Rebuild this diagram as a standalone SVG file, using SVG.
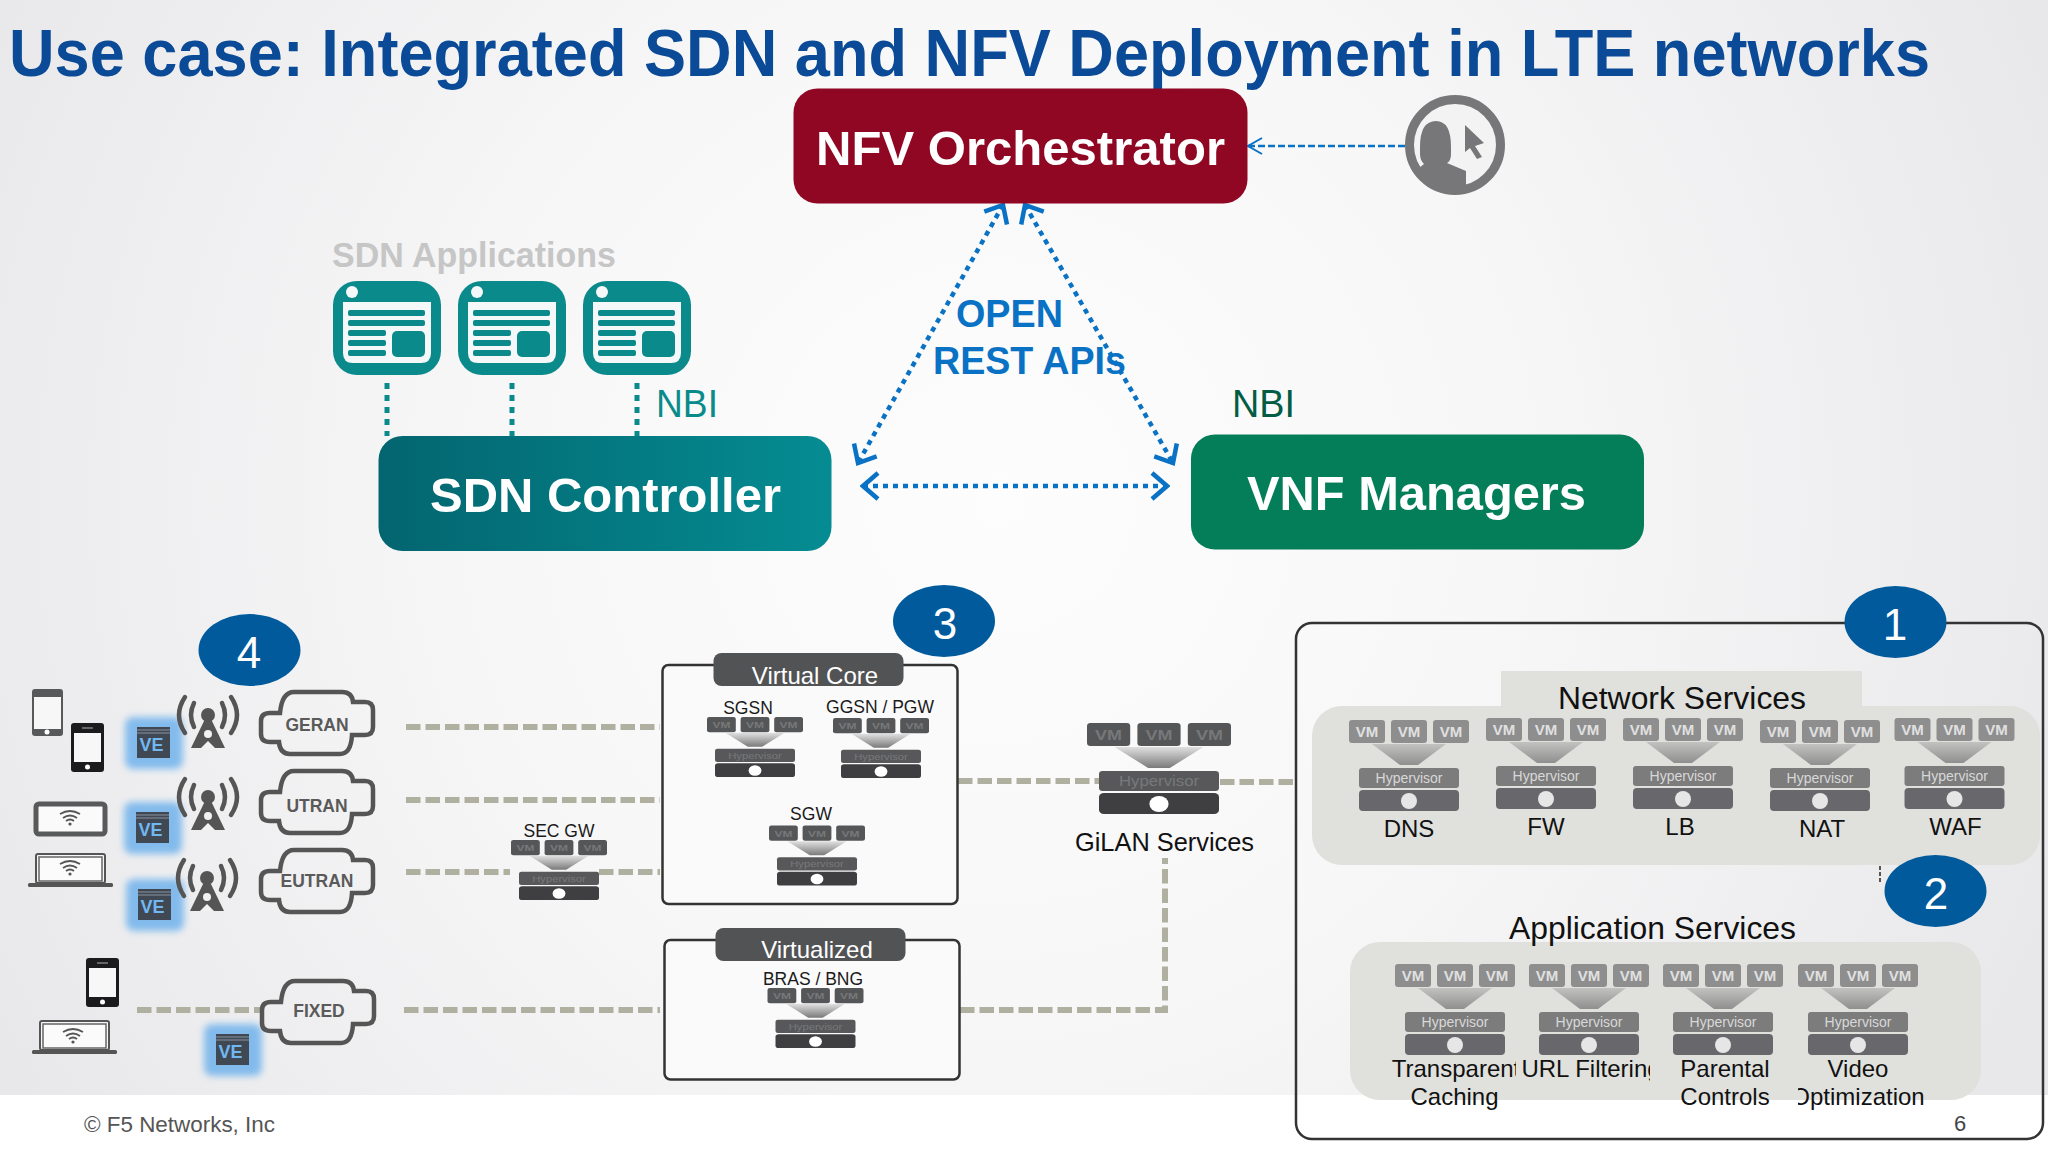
<svg xmlns="http://www.w3.org/2000/svg" width="2048" height="1152" viewBox="0 0 2048 1152">
<style>
text{font-family:"Liberation Sans",Arial,sans-serif}
.m{text-anchor:middle}
.vm{font-size:15px;font-weight:bold;text-anchor:middle;fill:#e0e0e0}
.hv{font-size:14px;text-anchor:middle;fill:#d8d8d8}
.vmd{font-size:15px;font-weight:bold;text-anchor:middle;fill:#77787a}
.hvd{font-size:14px;text-anchor:middle;fill:#77787a}
.lbl{font-size:24px;text-anchor:middle;fill:#111}
.sm{font-size:17.5px;text-anchor:middle;fill:#1a1a1a}
.big{font-size:49px;font-weight:bold;fill:#fff}
.num{font-size:44px;fill:#fff;text-anchor:middle}
.badge{fill:#005a9c}
.hdr{font-size:32px;fill:#111}
.cl{font-size:17.5px;font-weight:bold;fill:#5a5a5a;text-anchor:middle}
.tan{fill:none;stroke:#b0b0a0;stroke-width:6;stroke-dasharray:14.5 5}
.teal{fill:none;stroke:#0b8a8b;stroke-width:5;stroke-dasharray:6 6}
.blue{fill:none;stroke:#0a72c4;stroke-width:4.5;stroke-dasharray:5 5;marker-start:url(#ah);marker-end:url(#ah)}
.box{fill:#fafafb;stroke:#333;stroke-width:2.5}
.tab{fill:#525355}
.tabt{font-size:24px;fill:#fff;text-anchor:middle}
.wf{fill:none;stroke:#555;stroke-width:1.8}
</style>
<defs>
<radialGradient id="bg" gradientUnits="userSpaceOnUse" cx="1000" cy="500" r="1150">
<stop offset="0" stop-color="#fdfdfd"/><stop offset=".45" stop-color="#f7f7f8"/><stop offset="1" stop-color="#e8e8ea"/>
</radialGradient>
<linearGradient id="sdn" x1="0" x2="1" y1="0" y2="0"><stop offset="0" stop-color="#03656f"/><stop offset="1" stop-color="#058c92"/></linearGradient>
<linearGradient id="fun" x1="0" x2="0" y1="0" y2="1"><stop offset="0" stop-color="#c2c2c0"/><stop offset="1" stop-color="#8f8f8f"/></linearGradient>
<linearGradient id="fund" x1="0" x2="0" y1="0" y2="1"><stop offset="0" stop-color="#e0e0e0"/><stop offset="1" stop-color="#7a7a7a"/></linearGradient>
<filter id="glow" x="-30%" y="-30%" width="160%" height="160%"><feGaussianBlur stdDeviation="3.5"/></filter>
<marker id="ah" markerUnits="userSpaceOnUse" markerWidth="26" markerHeight="30" viewBox="0 0 26 30" refX="23" refY="15" orient="auto-start-reverse"><path d="M8 2 L23 15 L8 28" fill="none" stroke="#0a72c4" stroke-width="4.5"/></marker>
<marker id="ah2" markerUnits="userSpaceOnUse" markerWidth="18" markerHeight="20" viewBox="0 0 18 20" refX="16" refY="10" orient="auto"><path d="M16 2 L2 10 L16 18" transform="rotate(180 9 10)" fill="none" stroke="#0a72c4" stroke-width="2"/></marker>
<g id="unitL">
<rect x="-60" y="0" width="36" height="23" rx="3" fill="#8e8e8e"/><rect x="-18" y="0" width="36" height="23" rx="3" fill="#8e8e8e"/><rect x="24" y="0" width="36" height="23" rx="3" fill="#8e8e8e"/>
<polygon points="-37,24 37,24 9,45 -9,45" fill="url(#fun)"/>
<rect x="-50" y="48" width="100" height="20" rx="3" fill="#7c7c7c"/>
<rect x="-50" y="70" width="100" height="21" rx="4" fill="#68686c"/>
<ellipse cx="0" cy="81" rx="8" ry="8" fill="#e6e6e6"/>
</g>
<g id="unitD">
<rect x="-60" y="0" width="36" height="23" rx="3" fill="#555658"/><rect x="-18" y="0" width="36" height="23" rx="3" fill="#555658"/><rect x="24" y="0" width="36" height="23" rx="3" fill="#555658"/>
<polygon points="-37,24 37,24 9,45 -9,45" fill="url(#fund)"/>
<rect x="-50" y="48" width="100" height="20" rx="3" fill="#58585a"/>
<rect x="-50" y="70" width="100" height="21" rx="4" fill="#3f3f42"/>
<ellipse cx="0" cy="81" rx="8" ry="8" fill="#fff"/>
</g>
<g id="appicon">
<rect width="108" height="94" rx="24" fill="#0b8a8b"/>
<path d="M10 21 H98 V72 Q98 82 88 82 H20 Q10 82 10 72Z" fill="#f4f8f8"/>
<circle cx="19" cy="11" r="6" fill="#f4f8f8"/>
<rect x="15" y="29" width="77" height="6" rx="2" fill="#0b8a8b"/><rect x="15" y="39" width="77" height="6" rx="2" fill="#0b8a8b"/>
<rect x="15" y="49" width="38" height="6" rx="2" fill="#0b8a8b"/><rect x="15" y="59" width="38" height="6" rx="2" fill="#0b8a8b"/><rect x="15" y="69" width="38" height="6" rx="2" fill="#0b8a8b"/>
<rect x="59" y="50" width="33" height="26" rx="5" fill="#0b8a8b"/>
</g>
<g id="ve">
<rect x="-12" y="-10" width="58" height="52" rx="8" fill="#6fb2ec" opacity=".85" filter="url(#glow)"/>
<rect width="33" height="31" fill="#3f4853"/>
<path d="M0 3H33M0 6H33" stroke="#8a93a0" stroke-width="1"/>
</g>
<path id="cloud" d="M34 1 H82 Q92 1 93 11 H105 Q113 11 113 19 V36 Q113 44 105 44 H92 Q91 63 80 63 H30 Q20 63 19 51 H10 Q1 51 1 43 V30 Q1 22 10 22 H20 Q22 1 34 1Z" fill="none" stroke="#555" stroke-width="4.5"/>
<g id="tower" fill="#555">
<path d="M-14 -12 Q-20 0 -14 12M14 -12 Q20 0 14 12M-23 -18 Q-35 0 -23 18M23 -18 Q35 0 23 18" fill="none" stroke="#555" stroke-width="4.5" stroke-linecap="round"/>
<circle cx="0" cy="0" r="7"/>
<path d="M-3 4 H3 L17 33 H-17Z"/><circle cx="0" cy="19" r="4" fill="#f2f2f3"/><path d="M-7 33 L0 26 L7 33Z" fill="#f2f2f3"/>
</g>
<g id="wifi"><path class="wf" d="M-10 -3 Q0 -9 10 -3M-7 1 Q0 -4 7 1M-4 4 Q0 1 4 4"/><circle cy="7" r="1.6" fill="#555"/></g>
<g id="phoneK"><rect width="33" height="49" rx="3" fill="#1b1b1d"/><rect x="3" y="10" width="27" height="29" fill="#f7f7f7"/><circle cx="16.5" cy="44" r="2.5" fill="#fff"/><rect x="11" y="4" width="11" height="2" fill="#666"/></g>
<g id="laptop"><rect x="8" y="0" width="69" height="29" rx="2" fill="#f6f6f6" stroke="#555" stroke-width="2"/><rect x="11" y="3" width="63" height="24" fill="#fbfbfb" stroke="#666" stroke-width="1.5"/><rect x="0" y="29" width="85" height="4" rx="1.5" fill="#555"/></g>
<clipPath id="c1"><rect x="1380" y="1050" width="136" height="40"/></clipPath>
<clipPath id="c2"><rect x="1518" y="1050" width="132" height="40"/></clipPath>
<clipPath id="c3"><rect x="1798" y="1080" width="140" height="40"/></clipPath>
</defs>

<rect width="2048" height="1152" fill="url(#bg)"/>
<rect y="1095" width="2048" height="57" fill="#fff"/>

<text x="9" y="76" font-size="66" font-weight="bold" fill="#0a4a96" textLength="1921" lengthAdjust="spacingAndGlyphs">Use case: Integrated SDN and NFV Deployment in LTE networks</text>

<g id="connectors">
<path class="teal" d="M387 383V436M512 383V436M637 383V436"/>
<path class="blue" d="M1003 205L858 463"/>
<path class="blue" d="M1025 205L1173 463"/>
<path class="blue" d="M863 486H1167"/>
<path d="M1405 146H1248" fill="none" stroke="#0a72c4" stroke-width="2.5" stroke-dasharray="7 3" marker-end="url(#ah2)"/>
<path class="tan" d="M406 727H660"/>
<path class="tan" d="M406 800H660"/>
<path class="tan" d="M406 872H510M599 872H660"/>
<path class="tan" d="M137 1010H261"/>
<path class="tan" d="M404 1010H660"/>
<path class="tan" d="M958 781H1100"/>
<path class="tan" d="M1220 782H1296"/>
<path class="tan" d="M960 1010H1165V858"/>
<path d="M1880 866V883" stroke="#222" stroke-width="1.5" stroke-dasharray="4 2" fill="none"/>
</g>

<g id="nfv-orchestrator"><rect x="793.500" y="88.500" width="454" height="115" rx="24" fill="#8f0723"/><text class="big" x="816" y="165" textLength="409" lengthAdjust="spacingAndGlyphs">NFV Orchestrator</text></g>
<g id="user"><circle cx="1455" cy="145" r="45.5" fill="#f3f3f4" stroke="#77777a" stroke-width="9"/>
<path d="M1420 147 Q1420 121 1436 121 Q1451 121 1451 147 V154 Q1451 161 1447 163 L1466 171 V187 Q1440 195 1414 172 L1424 164 Q1420 160 1420 154Z" fill="#77777a"/>
<polygon points="1465,125 1484,143 1475,146 1482,157 1477,159 1470,148 1465,152" fill="#77777a"/></g>

<g id="sdn-applications"><text x="332" y="267" font-size="35" font-weight="bold" fill="#c6c6c6" textLength="284" lengthAdjust="spacingAndGlyphs">SDN Applications</text>
<use href="#appicon" x="333" y="281"/><use href="#appicon" x="458" y="281"/><use href="#appicon" x="583" y="281"/></g>
<g id="sdn-controller"><rect x="378.500" y="436" width="453" height="115" rx="24" fill="url(#sdn)"/><text class="big" x="430" y="512" textLength="351" lengthAdjust="spacingAndGlyphs">SDN Controller</text></g>
<g id="vnf-managers"><rect x="1191" y="434.500" width="453" height="115" rx="24" fill="#047e58"/><text class="big" x="1247" y="510" textLength="339" lengthAdjust="spacingAndGlyphs">VNF Managers</text></g>
<text x="656" y="417" font-size="39" fill="#0a8b8b" textLength="62" lengthAdjust="spacingAndGlyphs">NBI</text>
<text x="1232" y="417" font-size="39" fill="#045c44" textLength="63" lengthAdjust="spacingAndGlyphs">NBI</text>
<text x="956" y="327" font-size="39" font-weight="bold" fill="#0a72c4" textLength="107" lengthAdjust="spacingAndGlyphs">OPEN</text>
<text x="933" y="374" font-size="39" font-weight="bold" fill="#0a72c4" textLength="193" lengthAdjust="spacingAndGlyphs">REST APIs</text>

<g id="n4"><ellipse class="badge" cx="249.500" cy="650" rx="51" ry="36"/><text class="num" x="249" y="668">4</text></g>
<g id="n3"><ellipse class="badge" cx="944" cy="621" rx="51" ry="36"/><text class="num" x="945" y="639">3</text></g>

<g id="devices">
<rect x="32" y="689" width="31" height="47" rx="3" fill="#58595b"/><rect x="34" y="697" width="27" height="32" fill="#f7f7f7"/><circle cx="47" cy="732" r="2.5" fill="#fff"/>
<use href="#phoneK" x="71" y="723"/>
<rect x="36" y="804" width="69" height="30" rx="3" fill="#fafafa" stroke="#58595b" stroke-width="5"/><use href="#wifi" x="70" y="817"/>
<use href="#laptop" x="28" y="854"/><use href="#wifi" x="70" y="867"/>
<use href="#phoneK" x="86" y="958"/>
<use href="#laptop" x="32" y="1021"/><use href="#wifi" x="73" y="1035"/>
</g>
<g id="ve1"><use href="#ve" x="137" y="727"/><text x="139.500" y="751" font-size="18" font-weight="bold" fill="#72b8f0" textLength="24" lengthAdjust="spacingAndGlyphs">VE</text></g>
<g id="ve2"><use href="#ve" x="136" y="812"/><text x="138.500" y="836" font-size="18" font-weight="bold" fill="#72b8f0" textLength="24" lengthAdjust="spacingAndGlyphs">VE</text></g>
<g id="ve3"><use href="#ve" x="138" y="889"/><text x="140.500" y="913" font-size="18" font-weight="bold" fill="#72b8f0" textLength="24" lengthAdjust="spacingAndGlyphs">VE</text></g>
<g id="ve4"><use href="#ve" x="216" y="1034"/><text x="218.500" y="1058" font-size="18" font-weight="bold" fill="#72b8f0" textLength="24" lengthAdjust="spacingAndGlyphs">VE</text></g>
<use id="tower1" href="#tower" x="208" y="715"/>
<use id="tower2" href="#tower" x="208" y="797"/>
<use id="tower3" href="#tower" x="207" y="878"/>
<g id="geran"><use href="#cloud" x="260" y="691"/><text class="cl" x="317" y="731">GERAN</text></g>
<g id="utran"><use href="#cloud" x="260" y="770"/><text class="cl" x="317" y="812">UTRAN</text></g>
<g id="eutran"><use href="#cloud" x="260" y="849"/><text class="cl" x="317" y="887">EUTRAN</text></g>
<g id="fixed"><use href="#cloud" x="261" y="980"/><text class="cl" x="319" y="1017">FIXED</text></g>

<g id="sec-gw"><text class="sm" x="559" y="837">SEC GW</text><g transform="translate(559 840) scale(.8 .66)"><use href="#unitD"/><text class="vmd" x="-42" y="17">VM</text><text class="vmd" y="17">VM</text><text class="vmd" x="42" y="17">VM</text><text class="hvd" y="63">Hypervisor</text></g></g>

<g id="virtual-core"><rect class="box" x="662.500" y="665" width="295" height="239" rx="6"/><rect class="tab" x="713.500" y="653" width="190" height="33" rx="8"/><text class="tabt" x="815" y="684">Virtual Core</text></g>
<g id="sgsn"><text class="sm" x="748" y="714">SGSN</text><g transform="translate(755 717) scale(.8 .66)"><use href="#unitD"/><text class="vmd" x="-42" y="17">VM</text><text class="vmd" y="17">VM</text><text class="vmd" x="42" y="17">VM</text><text class="hvd" y="63">Hypervisor</text></g></g>
<g id="ggsn"><text class="sm" x="880" y="713">GGSN / PGW</text><g transform="translate(881 718) scale(.8 .66)"><use href="#unitD"/><text class="vmd" x="-42" y="17">VM</text><text class="vmd" y="17">VM</text><text class="vmd" x="42" y="17">VM</text><text class="hvd" y="63">Hypervisor</text></g></g>
<g id="sgw"><text class="sm" x="811" y="820">SGW</text><g transform="translate(817 825.500) scale(.8 .66)"><use href="#unitD"/><text class="vmd" x="-42" y="17">VM</text><text class="vmd" y="17">VM</text><text class="vmd" x="42" y="17">VM</text><text class="hvd" y="63">Hypervisor</text></g></g>

<g id="virtualized"><rect class="box" x="664.500" y="940" width="295" height="139.500" rx="6"/><rect class="tab" x="715.500" y="928" width="190" height="33" rx="8"/><text class="tabt" x="817" y="958">Virtualized</text></g>
<g id="bras"><text class="sm" x="813" y="985">BRAS / BNG</text><g transform="translate(815.500 988) scale(.8 .66)"><use href="#unitD"/><text class="vmd" x="-42" y="17">VM</text><text class="vmd" y="17">VM</text><text class="vmd" x="42" y="17">VM</text><text class="hvd" y="63">Hypervisor</text></g></g>

<g id="gilan"><g transform="translate(1159 723) scale(1.2 1)"><use href="#unitD"/><text class="vmd" x="-42" y="17">VM</text><text class="vmd" y="17">VM</text><text class="vmd" x="42" y="17">VM</text><text class="hvd" y="63">Hypervisor</text></g><text x="1164.500" y="851" font-size="26" text-anchor="middle" fill="#111" textLength="179" lengthAdjust="spacingAndGlyphs">GiLAN Services</text></g>

<g id="panel-network"><rect x="1312" y="706" width="728" height="159" rx="30" fill="#e0e0dc"/><rect x="1501" y="671" width="361" height="40" fill="#e0e0dc"/><text class="hdr" x="1558" y="709" textLength="248" lengthAdjust="spacingAndGlyphs">Network Services</text></g>
<g id="panel-app"><rect x="1350" y="942" width="631" height="158" rx="30" fill="#e0e0dc"/><text class="hdr" x="1509" y="939" textLength="287" lengthAdjust="spacingAndGlyphs">Application Services</text></g>
<g id="services-box"><rect x="1296" y="623" width="747" height="516" rx="16" fill="none" stroke="#333" stroke-width="2.5"/></g>

<g id="dns" transform="translate(1409 720)"><use href="#unitL"/><text class="vm" x="-42" y="17">VM</text><text class="vm" y="17">VM</text><text class="vm" x="42" y="17">VM</text><text class="hv" y="63">Hypervisor</text><text class="lbl" y="117">DNS</text></g>
<g id="fw" transform="translate(1546 718)"><use href="#unitL"/><text class="vm" x="-42" y="17">VM</text><text class="vm" y="17">VM</text><text class="vm" x="42" y="17">VM</text><text class="hv" y="63">Hypervisor</text><text class="lbl" y="117">FW</text></g>
<g id="lb" transform="translate(1683 718)"><use href="#unitL"/><text class="vm" x="-42" y="17">VM</text><text class="vm" y="17">VM</text><text class="vm" x="42" y="17">VM</text><text class="hv" y="63">Hypervisor</text><text class="lbl" x="-3" y="117">LB</text></g>
<g id="nat" transform="translate(1820 720)"><use href="#unitL"/><text class="vm" x="-42" y="17">VM</text><text class="vm" y="17">VM</text><text class="vm" x="42" y="17">VM</text><text class="hv" y="63">Hypervisor</text><text class="lbl" x="2" y="117">NAT</text></g>
<g id="waf" transform="translate(1954.500 718)"><use href="#unitL"/><text class="vm" x="-42" y="17">VM</text><text class="vm" y="17">VM</text><text class="vm" x="42" y="17">VM</text><text class="hv" y="63">Hypervisor</text><text class="lbl" x="1" y="117">WAF</text></g>

<g id="caching"><g transform="translate(1455 964)"><use href="#unitL"/><text class="vm" x="-42" y="17">VM</text><text class="vm" y="17">VM</text><text class="vm" x="42" y="17">VM</text><text class="hv" y="63">Hypervisor</text></g><text class="lbl" x="1456" y="1077" clip-path="url(#c1)">Transparent</text><text class="lbl" x="1454.500" y="1105">Caching</text></g>
<g id="url"><g transform="translate(1589 964)"><use href="#unitL"/><text class="vm" x="-42" y="17">VM</text><text class="vm" y="17">VM</text><text class="vm" x="42" y="17">VM</text><text class="hv" y="63">Hypervisor</text></g><text class="lbl" x="1591" y="1077" clip-path="url(#c2)">URL Filtering</text></g>
<g id="parental"><g transform="translate(1723 964)"><use href="#unitL"/><text class="vm" x="-42" y="17">VM</text><text class="vm" y="17">VM</text><text class="vm" x="42" y="17">VM</text><text class="hv" y="63">Hypervisor</text></g><text class="lbl" x="1725" y="1077">Parental</text><text class="lbl" x="1725" y="1105">Controls</text></g>
<g id="video"><g transform="translate(1858 964)"><use href="#unitL"/><text class="vm" x="-42" y="17">VM</text><text class="vm" y="17">VM</text><text class="vm" x="42" y="17">VM</text><text class="hv" y="63">Hypervisor</text></g><text class="lbl" x="1858" y="1077">Video</text><text class="lbl" x="1858" y="1105" clip-path="url(#c3)">Optimization</text></g>

<g id="n1"><ellipse class="badge" cx="1895.500" cy="622" rx="51" ry="36"/><text class="num" x="1895" y="640">1</text></g>
<g id="n2"><ellipse class="badge" cx="1935.500" cy="891" rx="51" ry="36"/><text class="num" x="1936" y="909">2</text></g>

<text x="84" y="1132" font-size="22" fill="#555" textLength="191" lengthAdjust="spacingAndGlyphs">© F5 Networks, Inc</text>
<text x="1960" y="1131" font-size="22" fill="#444" text-anchor="middle">6</text>
</svg>
